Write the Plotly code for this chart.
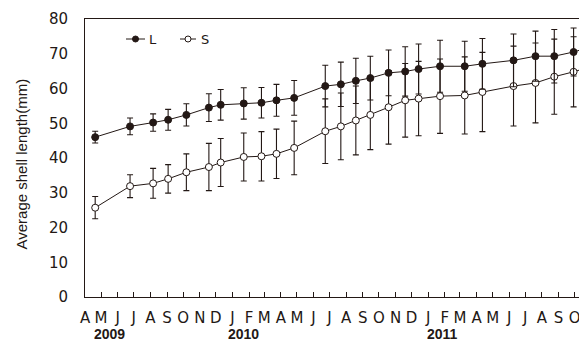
import plotly.graph_objects as go

# ---- data ----
sample_dates = [
    "2009-04-20", "2009-06-24", "2009-08-06", "2009-09-03", "2009-10-07",
    "2009-11-18", "2009-12-10", "2010-01-22", "2010-02-24", "2010-03-24",
    "2010-04-26", "2010-06-23", "2010-07-22", "2010-08-19", "2010-09-15",
    "2010-10-19", "2010-11-19", "2010-12-14", "2011-01-23", "2011-03-10",
    "2011-04-12", "2011-06-09", "2011-07-20", "2011-08-24", "2011-09-29",
    "2011-10-23",
]
L_mean = [46.0, 49.1, 50.2, 51.0, 52.4, 54.5, 55.3, 55.7, 55.9, 56.6,
          57.3, 60.7, 61.2, 62.2, 63.0, 64.5, 64.9, 65.6, 66.4, 66.4,
          67.1, 68.1, 69.3, 69.3, 70.5, 71.6]
L_sd = [1.7, 2.4, 2.5, 3.0, 3.2, 4.0, 4.4, 4.5, 4.4, 4.6,
        5.0, 6.0, 6.4, 6.5, 6.3, 6.6, 7.1, 7.2, 7.5, 7.2,
        7.3, 7.6, 7.2, 7.7, 6.9, 7.0]
S_mean = [25.7, 31.9, 32.7, 34.0, 35.9, 37.4, 38.7, 40.3, 40.5, 41.2,
          42.9, 47.7, 49.1, 50.8, 52.4, 54.6, 56.6, 57.1, 57.8, 58.0,
          59.0, 60.7, 61.6, 63.4, 64.8, 65.9]
S_sd = [3.2, 3.3, 4.3, 4.1, 5.3, 6.8, 6.9, 6.9, 7.1, 7.1,
        7.7, 9.3, 9.6, 9.9, 10.0, 10.6, 10.6, 10.7, 10.7, 11.1,
        11.4, 11.5, 11.5, 10.8, 10.1, 10.0]

month_ticks = ["2009-%02d-01" % m for m in range(4, 13)] + \
              ["2010-%02d-01" % m for m in range(1, 13)] + \
              ["2011-%02d-01" % m for m in range(1, 11)]
month_labels = ["A", "M", "J", "J", "A", "S", "O", "N", "D",
                "J", "F", "M", "A", "M", "J", "J", "A", "S", "O", "N", "D",
                "J", "F", "M", "A", "M", "J", "J", "A", "S", "O"]
year_labels = ["2009", "2010", "2011"]
year_label_pos = ["2009-05-16", "2010-01-22", "2011-01-28"]
y_ticks = [0, 10, 20, 30, 40, 50, 60, 70, 80]

INK = "#231815"

fig = go.Figure()
fig.add_trace(go.Scatter(
    x=sample_dates, y=S_mean, mode="lines+markers", name="S",
    line=dict(color=INK, width=1),
    marker=dict(symbol="circle", size=7, color="white", line=dict(color=INK, width=1)),
    error_y=dict(type="data", array=S_sd, visible=True, color=INK, thickness=1.1, width=3),
    showlegend=False,
))
fig.add_trace(go.Scatter(
    x=sample_dates, y=L_mean, mode="lines+markers", name="L",
    line=dict(color=INK, width=1),
    marker=dict(symbol="circle", size=7, color=INK, line=dict(color=INK, width=1)),
    error_y=dict(type="data", array=L_sd, visible=True, color=INK, thickness=1.1, width=3),
    showlegend=False,
))

# page body has an 8px default margin; compensate so the plot lands where it should
OFF = 8
W, H = 587 - OFF, 342 - OFF
ML, MR, MT = 85 - OFF, 0, 19 - OFF
MB = H - (297 - OFF)
PW, PH = W - ML - MR, H - MT - MB


def px_x(p):
    return (p - OFF - ML) / PW


def px_y(p):
    return (H - MB - (p - OFF)) / PH


shapes = []
annotations = []
# manual legend
legend_items = [("L", INK, 135.5, 126, 145, 147), ("S", "white", 188, 180, 196, 199)]
ly = px_y(39)
for name, fill, mx, l0, l1, tx in legend_items:
    shapes.append(dict(type="line", xref="paper", yref="paper",
                       x0=px_x(l0), x1=px_x(l1), y0=ly, y1=ly,
                       line=dict(color=INK, width=1)))
    shapes.append(dict(type="circle", xref="paper", yref="paper",
                       xsizemode="pixel", ysizemode="pixel",
                       xanchor=px_x(mx), yanchor=ly, x0=-3, x1=3, y0=-3, y1=3,
                       fillcolor=fill, line=dict(color=INK, width=1)))
    annotations.append(dict(text=name, xref="paper", yref="paper", x=px_x(tx), y=ly,
                            xanchor="left", yanchor="middle", showarrow=False,
                            font=dict(family="DejaVu Sans", size=13, color=INK)))

for lab, pos in zip(year_labels, year_label_pos):
    annotations.append(dict(text="<b>%s</b>" % lab, xref="x", yref="paper", x=pos,
                            y=px_y(334), xanchor="center", yanchor="middle",
                            showarrow=False,
                            font=dict(family="Liberation Sans", size=14, color=INK)))

annotations.append(dict(text="Average shell length(mm)", xref="paper", yref="paper",
                        x=px_x(21), y=px_y(164.5), textangle=-90,
                        xanchor="center", yanchor="middle", showarrow=False,
                        font=dict(family="Liberation Sans", size=15, color=INK)))

fig.update_layout(
    width=W, height=H,
    margin=dict(l=ML, r=MR, t=MT, b=MB, autoexpand=False),
    paper_bgcolor="white", plot_bgcolor="white",
    showlegend=False,
    shapes=shapes, annotations=annotations,
    font=dict(family="DejaVu Sans", size=15, color=INK),
)
fig.update_xaxes(
    type="date", range=["2009-04-01", "2011-10-24"],
    tickmode="array", tickvals=month_ticks, ticktext=month_labels,
    ticks="inside", ticklen=5, tickwidth=1, tickcolor=INK,
    showline=True, linecolor=INK, linewidth=1, mirror=True,
    showgrid=False, zeroline=False, automargin=False,
    tickfont=dict(family="DejaVu Sans", size=15, color=INK),
    ticklabelstandoff=7,
)
fig.update_yaxes(
    range=[0, 80], tickmode="array", tickvals=y_ticks,
    ticks="", showline=True, linecolor=INK, linewidth=1,
    showgrid=False, zeroline=False, automargin=False,
    tickfont=dict(family="DejaVu Sans", size=15, color=INK),
    ticklabelstandoff=13,
)

fig.write_html("out.html")
